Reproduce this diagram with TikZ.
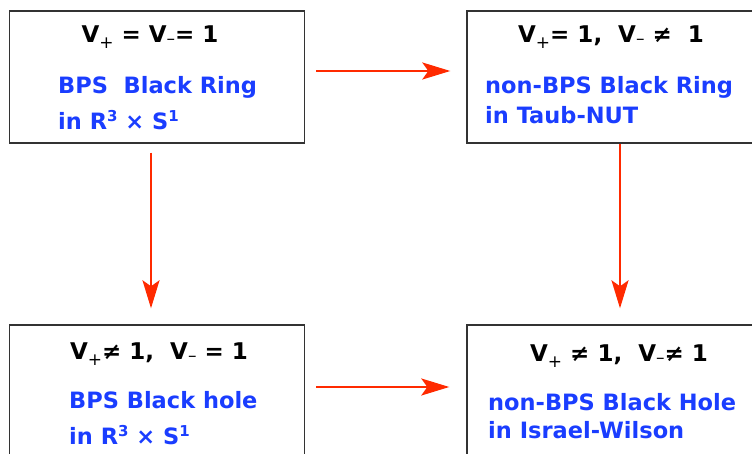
\documentclass[tikz,border=0pt]{standalone}
\usepackage{fontspec}
\setmainfont{DejaVu Sans}
\usetikzlibrary{arrows.meta}
\definecolor{ringblue}{RGB}{26,61,255}
\definecolor{flowred}{RGB}{255,42,0}
\tikzset{
  box/.style={draw=black!80, line width=1.4pt, minimum width=295pt, minimum height=132pt, inner sep=0pt},
  cond/.style={font=\fontsize{23}{27}\selectfont\bfseries, inner sep=0pt, anchor=base},
  kind/.style={font=\fontsize{22.5}{27}\selectfont\bfseries, text=ringblue, inner sep=0pt, anchor=base west, align=left},
  flow/.style={draw=flowred, line width=2.2pt, -{Stealth[length=28pt, width=17pt, inset=6pt]}}
}
\newcommand{\Vp}{V\raisebox{-6pt}{\mdseries\fontsize{17}{17}\selectfont +}}
\newcommand{\Vm}{V\raisebox{-2pt}{\mdseries\fontsize{17}{17}\selectfont –}}
\newcommand{\RxS}{R\raisebox{8pt}{\fontsize{15}{15}\selectfont 3} × S\raisebox{8pt}{\fontsize{15}{15}\selectfont 1}}
\begin{document}
\begin{tikzpicture}[x=1pt, y=-1pt]
    \useasboundingbox (0,0) rectangle (752,454);
    \clip (0,0) rectangle (752,454);

    % Boxes
    \node[box] (tl) at (157, 77) {};
    \node[box] (tr) at (614.5, 77) {};
    \node[box] (bl) at (157, 391) {};
    \node[box] (br) at (614.5, 391) {};

    % Conditions on V
    \node[cond] (tlc) at (150, 43) {\Vp{} = \Vm{}= 1};
    \node[cond] (trc) at (611, 43) {\Vp{}= 1,~ \Vm{} ≠~ 1};
    \node[cond] (blc) at (159, 359) {\Vp{}≠ 1,~ \Vm{} = 1};
    \node[cond] (brc) at (619, 361) {\Vp{} ≠ 1,~ \Vm{}≠ 1};

    % Solutions (anchored on the baseline of the last line)
    \node[kind] (tlk) at (58, 130) {BPS~ Black Ring\\[9pt]in \RxS};
    \node[kind] (trk) at (485, 124) {non-BPS Black Ring\\[3pt]in Taub-NUT};
    \node[kind] (blk) at (69, 444) {BPS Black hole\\[9pt]in \RxS};
    \node[kind] (brk) at (488, 438) {non-BPS Black Hole\\[1pt]in Israel-Wilson};

    % Arrows
    \draw[flow] ([xshift=11pt, yshift=6pt]tl.east) -- ([xshift=-16pt, yshift=6pt]tr.west);
    \draw[flow] ([xshift=11pt, yshift=4pt]bl.east) -- ([xshift=-17pt, yshift=4pt]br.west);
    \draw[flow] ([xshift=-6pt, yshift=-9pt]tl.south) -- ([xshift=-6pt, yshift=16pt]bl.north);
    \draw[flow] ([xshift=5.5pt]tr.south) -- ([xshift=5.5pt, yshift=16pt]br.north);
\end{tikzpicture}
\end{document}
